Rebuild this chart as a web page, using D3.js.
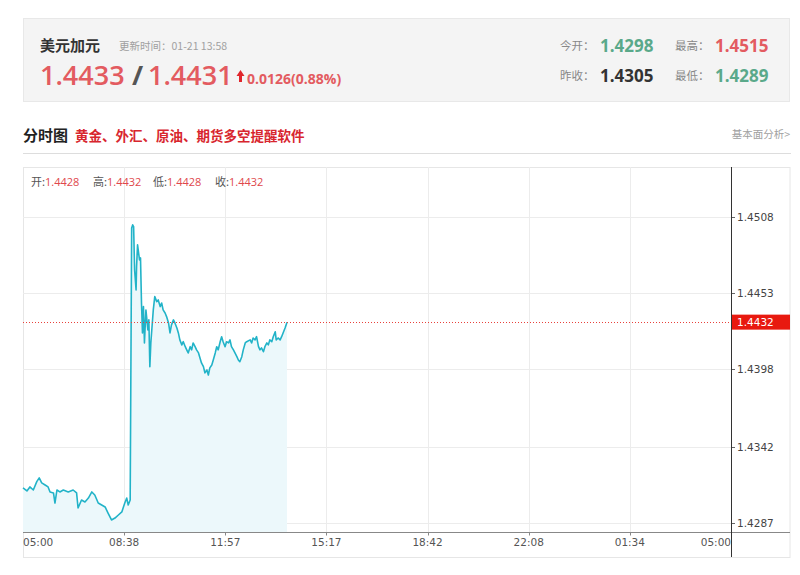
<!DOCTYPE html>
<html><head><meta charset="utf-8">
<script src="https://cdn.jsdelivr.net/npm/d3@7"></script>
<style>
body{margin:0;background:#fff;}
svg{display:block;font-family:"Open Sans","Noto Sans CJK SC",sans-serif;}
.cjk{font-family:"Noto Sans CJK SC","Open Sans",sans-serif;}
</style>
</head><body><svg id="c" width="800" height="575"></svg>
<script>
// ---- data ----
const minutes = [0,8,14,21,28,33,38,45,51,55,62,65,69,75,82,92,102,109,112,119,126,133,140,146,153,160,167,173,180,187,194,201,207,211,214,218,221,223,225,227,230,231,233,237,239,241,243,245,247,250,252,254,256,258,260,263,265,268,272,275,279,282,285,289,292,296,299,302,306,309,313,316,319,323,326,330,333,336,340,343,346,350,353,357,360,363,367,370,374,377,380,384,387,391,394,397,401,404,407,411,414,418,421,424,428,435,438,441,445,448,452,455,462,465,468,472,475,479,482,485,489,492,496,499,502,506,509,513,515,519,523,526,529,533,537];
const prices = [1.43125,1.43103,1.43132,1.43110,1.43170,1.43197,1.43161,1.43146,1.43132,1.43096,1.43089,1.43016,1.43110,1.43096,1.43110,1.43096,1.43110,1.43089,1.42980,1.43038,1.43024,1.43052,1.43096,1.43074,1.43016,1.43002,1.42988,1.42944,1.42894,1.42908,1.42930,1.42952,1.43016,1.43052,1.43002,1.43038,1.44999,1.45021,1.45008,1.44696,1.44552,1.44720,1.44877,1.44768,1.44783,1.44458,1.44242,1.44432,1.44170,1.44408,1.44336,1.44264,1.44336,1.43999,1.44170,1.44314,1.44408,1.44504,1.44468,1.44480,1.44432,1.44458,1.44408,1.44386,1.44360,1.44314,1.44242,1.44300,1.44336,1.44314,1.44278,1.44242,1.44192,1.44156,1.44179,1.44143,1.44120,1.44098,1.44143,1.44120,1.44170,1.44143,1.44120,1.44098,1.44062,1.44026,1.43999,1.43954,1.43975,1.43939,1.43990,1.44011,1.44047,1.44098,1.44143,1.44120,1.44179,1.44215,1.44179,1.44143,1.44179,1.44170,1.44192,1.44143,1.44120,1.44071,1.44047,1.44035,1.44071,1.44120,1.44170,1.44179,1.44192,1.44170,1.44206,1.44192,1.44215,1.44143,1.44120,1.44134,1.44107,1.44143,1.44170,1.44156,1.44192,1.44179,1.44215,1.44251,1.44192,1.44206,1.44192,1.44215,1.44242,1.44278,1.44320];
const xTickLabels = ["05:00","08:38","11:57","15:17","18:42","22:08","01:34","05:00"];
const yTickValues = [1.4287,1.4342,1.4398,1.4453,1.4508];
const lastPrice = 1.4432;
const ohlcLabels = ["开:","高:","低:","收:"];
const ohlcValues = ["1.4428","1.4432","1.4428","1.4432"];

(function(){
const svg = d3.select("#c");
const RED = "#e35b60", GREEN = "#5aa98a";

// ---- header ----
svg.append("rect").attr("x",23.5).attr("y",18.5).attr("width",766).attr("height",83)
  .attr("fill","#f4f4f4").attr("stroke","#e8e8e8");
svg.append("text").attr("class","cjk").attr("x",40).attr("y",51).attr("font-size",15).attr("font-weight","bold").attr("fill","#333").text("美元加元");
svg.append("text").attr("class","cjk").attr("x",119).attr("y",50).attr("font-size",10.5).attr("fill","#a0a0a0").text("更新时间：01-21 13:58");
svg.append("text").attr("x",40).attr("y",85).attr("font-size",27).attr("font-weight",600).attr("fill",RED).text("1.4433");
svg.append("text").attr("x",132).attr("y",85).attr("font-size",27).attr("font-weight","bold").attr("fill","#555").text("/");
svg.append("text").attr("x",148).attr("y",85).attr("font-size",27).attr("font-weight",600).attr("fill",RED).text("1.4431");
svg.append("path").attr("d","M240.5,70 L244.5,76 L242,76 L242,82 L239,82 L239,76 L236.5,76 Z").attr("fill","#e0262c");
svg.append("text").attr("x",247).attr("y",84).attr("font-size",14).attr("font-weight","bold").attr("fill",RED).text("0.0126(0.88%)");

const hdr = [
  {lab:"今开：",val:"1.4298",col:GREEN,x:560,y:50},
  {lab:"最高：",val:"1.4515",col:RED,x:675,y:50},
  {lab:"昨收：",val:"1.4305",col:"#333",x:560,y:80},
  {lab:"最低：",val:"1.4289",col:GREEN,x:675,y:80}
];
hdr.forEach(h=>{
  svg.append("text").attr("class","cjk").attr("x",h.x).attr("y",h.y).attr("font-size",11.5).attr("fill","#888").text(h.lab);
  svg.append("text").attr("x",h.x+40).attr("y",h.y+2).attr("font-size",17).attr("font-weight","bold").attr("fill",h.col).text(h.val);
});

// ---- section title ----
svg.append("text").attr("class","cjk").attr("x",23).attr("y",141).attr("font-size",15).attr("font-weight","bold").attr("fill","#222").text("分时图");
svg.append("text").attr("class","cjk").attr("x",75).attr("y",141).attr("font-size",13.5).attr("font-weight","bold").attr("fill","#d8262e").text("黄金、外汇、原油、期货多空提醒软件");
svg.append("text").attr("class","cjk").attr("x",790).attr("y",138).attr("text-anchor","end").attr("font-size",10.5).attr("fill","#a0a0a0").text("基本面分析>");
svg.append("line").attr("x1",23).attr("x2",791).attr("y1",153.5).attr("y2",153.5).attr("stroke","#ddd");

// ---- chart ----
const L=23, R=731, T=167, axisY=532.5, B=557, outerR=790;
svg.append("rect").attr("x",L+0.5).attr("y",T+0.5).attr("width",outerR-L-0.5).attr("height",B-T).attr("fill","#fff").attr("stroke","#e6e6e6");

const x = d3.scaleLinear().domain([0,1440]).range([L,R]);
const y = d3.scaleLinear().domain([1.4287,1.4508]).range([523.3,216.7]);
const xTicks = xTickLabels.map((d,i)=>i*1440/(xTickLabels.length-1));

// grid
svg.append("g").selectAll("line").data(xTicks.slice(1,-1)).join("line")
  .attr("x1",d=>Math.round(x(d))+0.5).attr("x2",d=>Math.round(x(d))+0.5)
  .attr("y1",T).attr("y2",axisY).attr("stroke","#ececec");
svg.append("g").selectAll("line").data(yTickValues).join("line")
  .attr("x1",L).attr("x2",R)
  .attr("y1",d=>Math.round(y(d))+0.5).attr("y2",d=>Math.round(y(d))+0.5)
  .attr("stroke","#ececec");
svg.append("g").selectAll("line").data(yTickValues).join("line")
  .attr("x1",R).attr("x2",R+4)
  .attr("y1",d=>Math.round(y(d))+0.5).attr("y2",d=>Math.round(y(d))+0.5)
  .attr("stroke","#666");

const data = minutes.map((m,i)=>({m, p:prices[i]}));
const area = d3.area().x(d=>x(d.m)).y0(axisY).y1(d=>y(d.p));
const line = d3.line().x(d=>x(d.m)).y(d=>y(d.p));
svg.append("path").datum(data).attr("d",area).attr("fill","#ecf8fb");
svg.append("path").datum(data).attr("d",line).attr("fill","none").attr("stroke","#22b3c8").attr("stroke-width",1.6).attr("stroke-linejoin","round");

// last price dotted line
svg.append("line").attr("x1",L).attr("x2",R).attr("y1",Math.round(y(lastPrice))+0.5).attr("y2",Math.round(y(lastPrice))+0.5)
  .attr("stroke","#e8413b").attr("stroke-dasharray","1,2");

// axes
svg.append("line").attr("x1",L).attr("x2",outerR).attr("y1",axisY).attr("y2",axisY).attr("stroke","#888");
svg.append("line").attr("x1",R+0.5).attr("x2",R+0.5).attr("y1",T).attr("y2",B).attr("stroke","#333");
svg.append("g").selectAll("line").data(xTicks.slice(1,-1)).join("line")
  .attr("x1",d=>Math.round(x(d))+0.5).attr("x2",d=>Math.round(x(d))+0.5)
  .attr("y1",axisY).attr("y2",axisY+3).attr("stroke","#888");

// x labels
svg.append("g").selectAll("text").data(xTickLabels).join("text")
  .attr("x",(d,i)=>x(xTicks[i]))
  .attr("y",546)
  .attr("text-anchor",(d,i)=>i===0?"start":(i===xTickLabels.length-1?"end":"middle"))
  .attr("fill","#555").attr("font-family","DejaVu Sans, sans-serif").attr("font-size",10.5)
  .text(d=>d);

// y labels
svg.append("g").selectAll("text").data(yTickValues).join("text")
  .attr("x",R+6).attr("y",d=>y(d)+4)
  .attr("font-size",10.5).attr("fill","#444").attr("font-family","DejaVu Sans, sans-serif")
  .text(d=>d.toFixed(4));

// last price label
const ly = y(lastPrice);
svg.append("rect").attr("x",R+1).attr("y",ly-7.5).attr("width",outerR-R-1).attr("height",15).attr("fill","#e8190f");
svg.append("text").attr("x",R+6).attr("y",ly+4).attr("font-size",10.5).attr("fill","#fff").attr("font-family","DejaVu Sans, sans-serif").text(lastPrice.toFixed(4));

// OHLC info
const ohlcX = [31,93,153,215];
ohlcLabels.forEach((l,i)=>{
  const t = svg.append("text").attr("x",ohlcX[i]).attr("y",186).attr("font-size",11);
  t.append("tspan").attr("class","cjk").attr("fill","#555").text(l);
  t.append("tspan").attr("fill","#e0474c").text(ohlcValues[i]);
});
})();
</script>
</body></html>
